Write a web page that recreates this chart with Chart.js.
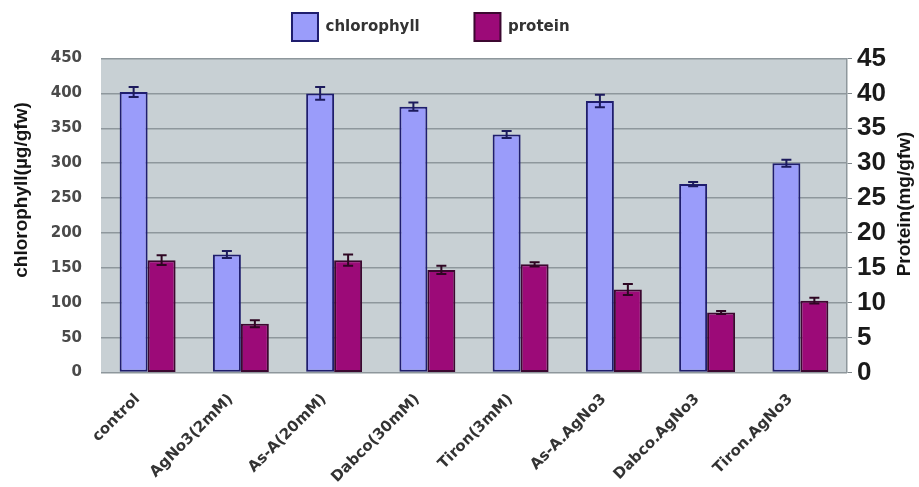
<!DOCTYPE html>
<html>
<head>
<meta charset="utf-8">
<style>
  html, body { margin: 0; padding: 0; background: #ffffff; }
  #wrap { position: relative; width: 919px; height: 487px; }
</style>
<script src="https://cdn.jsdelivr.net/npm/chart.js@4.4.1/dist/chart.umd.min.js"></script>
</head>
<body>
<div id="wrap"><canvas id="chlProteinChart" width="919" height="487"></canvas></div>
<script>
// Chlorophyll (left axis) and protein (right axis) per treatment, with error bars
const treatments = [
  "control",
  "AgNo3(2mM)",
  "As-A(20mM)",
  "Dabco(30mM)",
  "Tiron(3mM)",
  "As-A.AgNo3",
  "Dabco.AgNo3",
  "Tiron.AgNo3",
];
const chlorophyll = [402, 169, 400, 381, 341, 389, 270, 300];
const chlorophyllErr = [7, 5, 9, 6, 5, 9, 3, 5];
const protein = [16.1, 7.0, 16.1, 14.7, 15.5, 11.9, 8.6, 10.3];
const proteinErr = [0.7, 0.5, 0.8, 0.6, 0.3, 0.8, 0.2, 0.4];
const chlTicks = [0, 50, 100, 150, 200, 250, 300, 350, 400, 450];
const proteinTicks = [0, 5, 10, 15, 20, 25, 30, 35, 40, 45];

// grey plot background
const plotBackground = {
  id: "plotBackground",
  beforeDraw(chart) {
    const { ctx, chartArea } = chart;
    ctx.save();
    ctx.fillStyle = "#c8d0d4";
    ctx.fillRect(chartArea.left, chartArea.top, chartArea.right - chartArea.left, chartArea.bottom - chartArea.top);
    ctx.restore();
  },
};

// error bars drawn from the dataset's own scale
const errorBars = {
  id: "errorBars",
  afterDatasetsDraw(chart) {
    const ctx = chart.ctx;
    chart.data.datasets.forEach((ds, i) => {
      const meta = chart.getDatasetMeta(i);
      const scale = chart.scales[meta.yAxisID];
      ctx.save();
      ctx.strokeStyle = ds.errorColor;
      ctx.lineWidth = 2;
      meta.data.forEach((bar, j) => {
        const v = ds.data[j];
        const e = ds.errors[j];
        const yTop = scale.getPixelForValue(v + e);
        const yBot = scale.getPixelForValue(v - e);
        const cap = 5;
        ctx.beginPath();
        ctx.moveTo(bar.x, yTop);
        ctx.lineTo(bar.x, yBot);
        ctx.moveTo(bar.x - cap, yTop);
        ctx.lineTo(bar.x + cap, yTop);
        ctx.moveTo(bar.x - cap, yBot);
        ctx.lineTo(bar.x + cap, yBot);
        ctx.stroke();
      });
      ctx.restore();
    });
  },
};

// axis titles, both reading bottom to top
const axisTitles = {
  id: "axisTitles",
  afterDraw(chart) {
    const ctx = chart.ctx;
    ctx.save();
    ctx.fillStyle = "#151515";
    ctx.font = "bold 19px 'Liberation Sans', Arial, sans-serif";
    ctx.textAlign = "center";
    ctx.textBaseline = "middle";
    ctx.translate(22, 190);
    ctx.rotate(-Math.PI / 2);
    ctx.fillText("chlorophyll(\u00b5g/gfw)", 0, 0);
    ctx.restore();

    ctx.save();
    ctx.fillStyle = "#151515";
    ctx.font = "bold 19px 'Liberation Sans', Arial, sans-serif";
    ctx.textAlign = "center";
    ctx.textBaseline = "middle";
    ctx.translate(905, 204);
    ctx.rotate(-Math.PI / 2);
    ctx.fillText("Protein(mg/gfw)", 0, 0);
    ctx.restore();
  },
};

const ctx = document.getElementById("chlProteinChart").getContext("2d");
new Chart(ctx, {
  type: "bar",
  data: {
    labels: treatments,
    datasets: [
      {
        // trailing spaces open the gap between the two legend entries
        label: "chlorophyll        ",
        data: chlorophyll,
        errors: chlorophyllErr,
        errorColor: "#1c1a5c",
        yAxisID: "y",
        backgroundColor: "#9a9cfa",
        borderColor: "#1f1d6e",
        borderWidth: 2,
        borderSkipped: false,
      },
      {
        label: "protein           ",
        data: protein,
        errors: proteinErr,
        errorColor: "#2e0622",
        yAxisID: "y1",
        backgroundColor: "#9c0a78",
        borderColor: "#3c0830",
        borderWidth: 2,
        borderSkipped: false,
      },
    ],
  },
  options: {
    responsive: false,
    animation: false,
    layout: { padding: 0 },
    categoryPercentage: 0.6,
    barPercentage: 1.0,
    plugins: {
      legend: {
        position: "top",
        labels: {
          boxWidth: 26,
          boxHeight: 28,
          padding: 13,
          color: "#333333",
          font: { family: "'DejaVu Sans', Verdana, sans-serif", size: 15, weight: "bold" },
        },
      },
      // empty title used as a spacer between legend and plot
      title: {
        display: true,
        text: "",
        weight: 500,
        padding: 0,
        font: { size: 5, lineHeight: 1.5 },
      },
      tooltip: { enabled: false },
    },
    scales: {
      x: {
        grid: { display: false },
        border: { display: false },
        ticks: {
          autoSkip: false,
          minRotation: 45,
          maxRotation: 45,
          padding: 10,
          labelOffset: -10,
          color: "#333333",
          font: { family: "'DejaVu Sans', Verdana, sans-serif", size: 15, weight: "bold" },
        },
        afterFit(scale) {
          scale.height = 114.5;
        },
      },
      y: {
        position: "left",
        min: 0,
        max: 450,
        afterBuildTicks(scale) {
          scale.ticks = chlTicks.map((v) => ({ value: v }));
        },
        grid: { color: "#8e979c", lineWidth: 1.5, drawTicks: false },
        border: { display: false },
        ticks: {
          padding: 19,
          color: "#4a4a4a",
          font: { family: "'DejaVu Sans', Verdana, sans-serif", size: 15, weight: "bold" },
        },
        afterFit(scale) {
          scale.width = 101;
        },
      },
      y1: {
        position: "right",
        min: 0,
        max: 45,
        afterBuildTicks(scale) {
          scale.ticks = proteinTicks.map((v) => ({ value: v }));
        },
        grid: { drawOnChartArea: false, color: "#7d858a", tickLength: 5 },
        border: { display: true, color: "#8e979c", width: 1.5 },
        ticks: {
          padding: 5,
          color: "#1a1a1a",
          font: { family: "'Liberation Sans', Arial, sans-serif", size: 26, weight: "bold" },
        },
        afterFit(scale) {
          scale.width = 72;
        },
      },
    },
  },
  plugins: [plotBackground, errorBars, axisTitles],
});
</script>
</body>
</html>
